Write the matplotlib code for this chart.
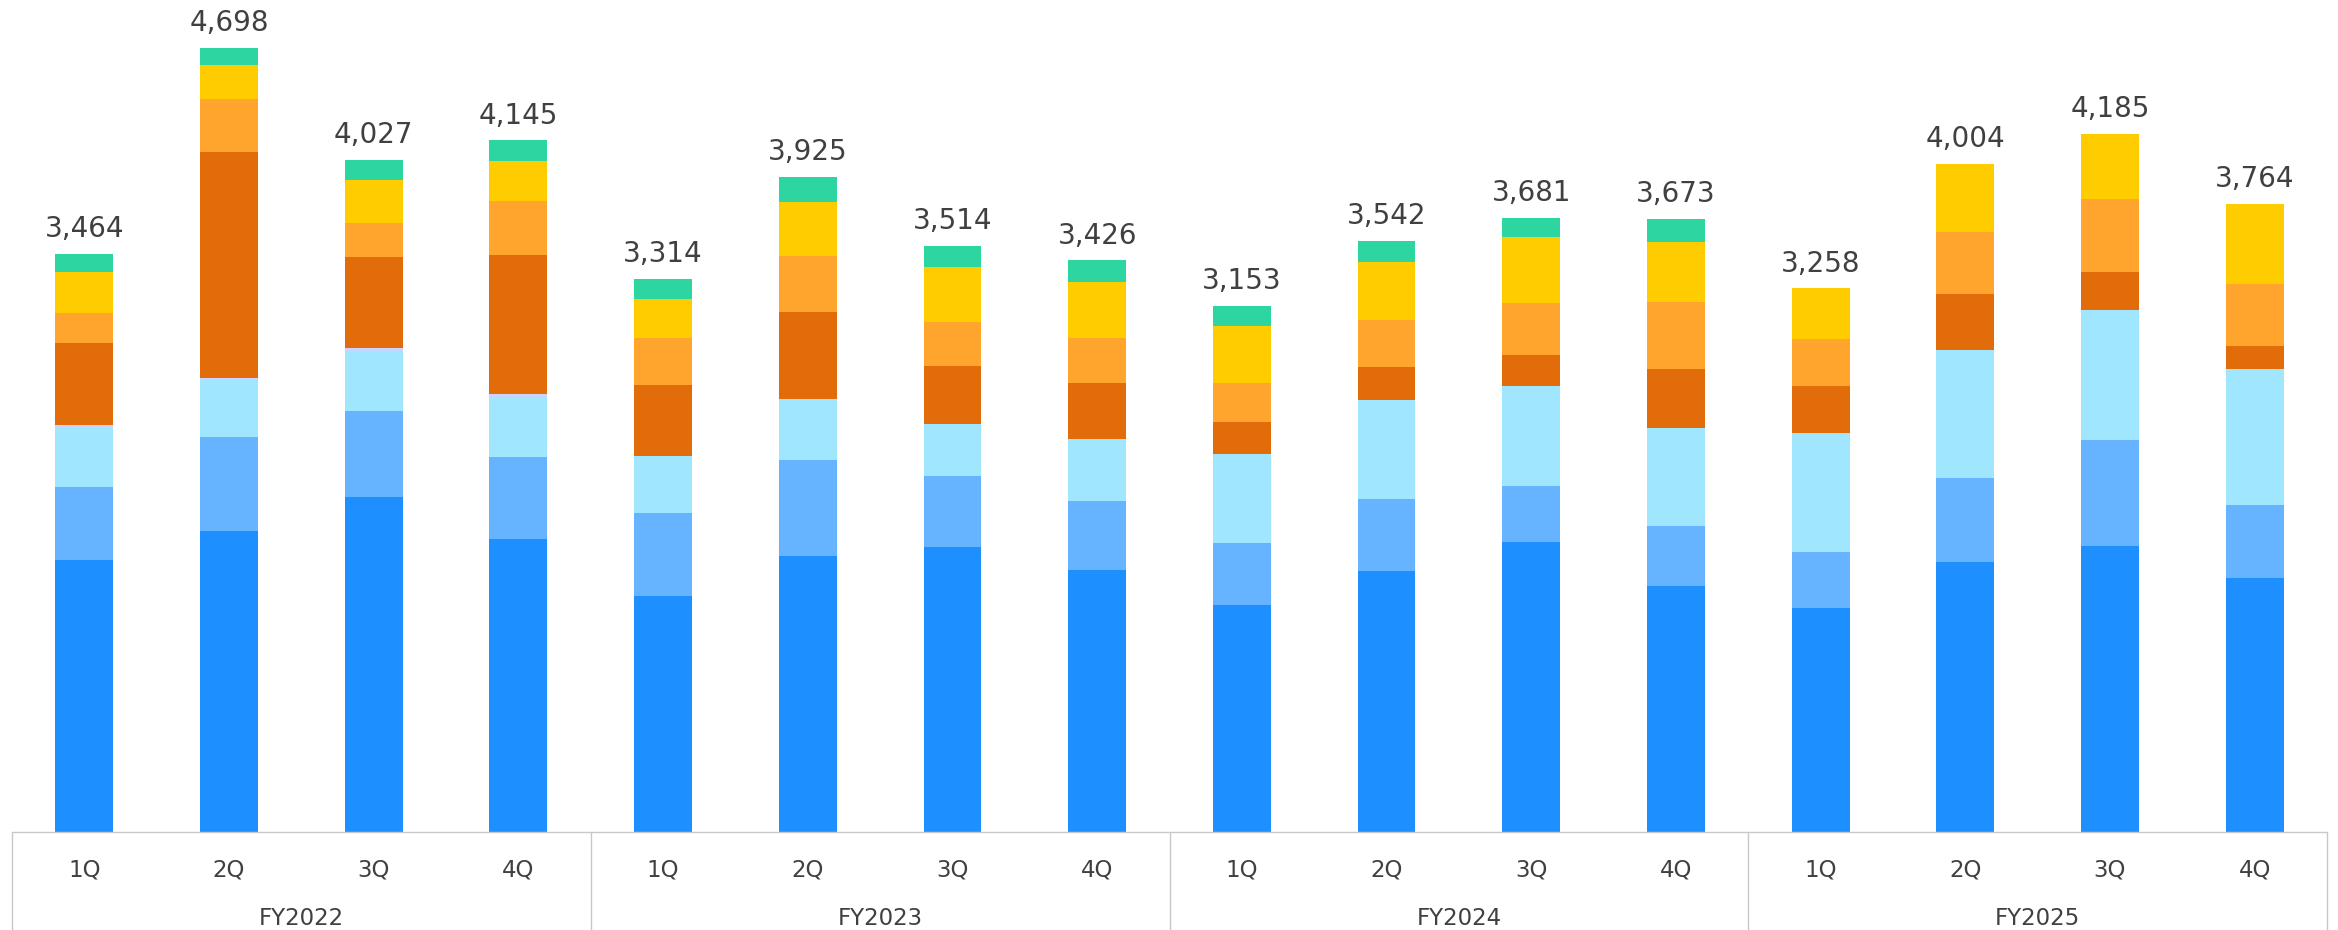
import matplotlib
matplotlib.use("Agg")
import matplotlib.pyplot as plt
import numpy as np

# ---- data ----
fiscal_years = ["FY2022", "FY2023", "FY2024", "FY2025"]
quarters = ["1Q", "2Q", "3Q", "4Q"]

blue        = [1631, 1804, 2006, 1755, 1415, 1653, 1705, 1570, 1359, 1564, 1735, 1473, 1340, 1620, 1713, 1524]
light_blue  = [438, 563, 516, 490, 497, 575, 431, 413, 372, 434, 336, 362, 340, 504, 634, 438]
pale_cyan   = [357, 340, 360, 364, 341, 365, 308, 371, 534, 592, 602, 586, 710, 762, 780, 810]
lavender    = [13, 13, 15, 15, 0, 0, 0, 0, 0, 0, 0, 0, 0, 0, 0, 0]
dark_orange = [492, 1355, 548, 832, 425, 525, 347, 335, 192, 196, 186, 352, 284, 338, 230, 140]
orange      = [180, 319, 203, 323, 282, 333, 264, 270, 234, 282, 312, 400, 280, 368, 438, 372]
yellow      = [244, 203, 259, 240, 234, 326, 333, 335, 342, 346, 392, 360, 304, 412, 390, 480]
green       = [109, 101, 120, 126, 120, 148, 126, 132, 120, 128, 118, 140, 0, 0, 0, 0]

series = [blue, light_blue, pale_cyan, lavender, dark_orange, orange, yellow, green]
colors = ["#1E8FFF", "#66B3FF", "#A0E6FF", "#C9D4FF", "#E36C0A", "#FFA42D", "#FFCC00", "#2DD5A0"]

# ---- figure ----
W, H, DPI = 2338, 930, 100
fig = plt.figure(figsize=(W / DPI, H / DPI), dpi=DPI)
left_px, right_px, base_px = 12, 2327, 832
ax = fig.add_axes([left_px / W, (H - base_px) / H, (right_px - left_px) / W, base_px / H])

n = len(blue)
x = np.arange(n)
bottom = np.zeros(n)
for vals, c in zip(series, colors):
    v = np.array(vals, dtype=float)
    ax.bar(x, v, width=0.4, bottom=bottom, color=c, linewidth=0)
    bottom += v

totals = bottom
ax.set_xlim(-0.5, n - 0.5)
ax.set_ylim(0, base_px / 0.1669)

text_color = "#404040"
for xi, t in zip(x, totals):
    ax.annotate(f"{int(round(t)):,}", xy=(xi, t), xytext=(0, 16.5 * 72 / DPI),
                textcoords="offset points", ha="center", va="baseline",
                fontsize=20, color=text_color)

# spines / axes
for s in ["top", "left", "right"]:
    ax.spines[s].set_visible(False)
ax.spines["bottom"].set_color("#c8c8c8")
ax.spines["bottom"].set_linewidth(1.0)
ax.set_yticks([])
ax.set_xticks([])

xt = ax.get_xaxis_transform()
# group separators
for b in np.arange(-0.5, n, 4):
    ax.plot([b, b], [0, -(H - base_px) / base_px], transform=xt, color="#c8c8c8",
            linewidth=1.0, clip_on=False, solid_capstyle="butt")

# quarter labels
for i in range(n):
    ax.annotate(quarters[i % 4], xy=(i, 0), xycoords=xt, xytext=(0, -44 * 72 / DPI),
                textcoords="offset points", ha="center", va="baseline",
                fontsize=16.5, color=text_color, annotation_clip=False)
# fiscal year labels
for g, fy in enumerate(fiscal_years):
    ax.annotate(fy, xy=(g * 4 + 1.5, 0), xycoords=xt, xytext=(0, -93 * 72 / DPI),
                textcoords="offset points", ha="center", va="baseline",
                fontsize=16.5, color=text_color, annotation_clip=False)

fig.savefig("out.png", dpi=DPI, facecolor="white")
